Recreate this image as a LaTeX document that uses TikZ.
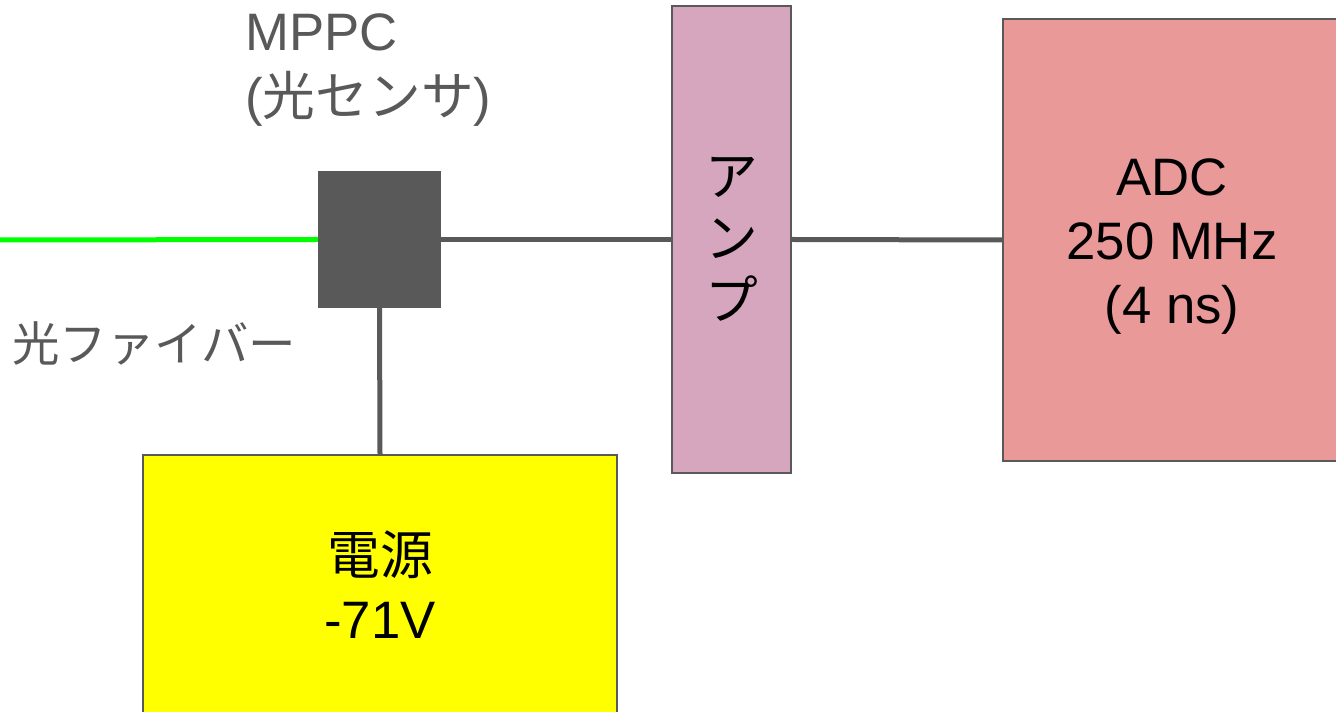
\documentclass[tikz,border=0pt]{standalone}
\usepackage{fontspec}
\setmainfont{Liberation Sans}
\newfontfamily\jp{Noto Sans CJK JP}
\usetikzlibrary{positioning}

\definecolor{cinza}{HTML}{595959}
\definecolor{verde}{HTML}{00FF00}
\definecolor{rosa}{HTML}{D5A6BD}
\definecolor{salmao}{HTML}{EA9999}
\definecolor{amarelo}{HTML}{FFFF00}

\begin{document}
\begin{tikzpicture}[x=0.02cm, y=-0.02cm,
    caixa/.style={draw=cinza, line width=0.04cm, inner sep=0, align=center,
        font=\fontsize{30}{36.4}\selectfont},
    fio/.style={cinza, line width=0.1cm},
    rotulo/.style={cinza, inner sep=0, align=left, anchor=west,
        font=\fontsize{30}{36.5}\selectfont}]

    \useasboundingbox (0,0) rectangle (1336,712);

    \node (mppc) [caixa, fill=cinza, minimum width=2.42cm, minimum height=2.7cm] at (379.5, 239.5) {}; % sensor
    \node (amp) [caixa, fill=rosa, minimum width=2.38cm, minimum height=9.34cm,
        font=\fontsize{30}{35.3}\selectfont\jp] at (731.5, 239.5) {ア\\ン\\プ};
    \node (adc) [caixa, fill=salmao, minimum width=6.74cm, minimum height=8.84cm] at (1171.5, 240) {};
    \node (adctexto) [caixa, draw=none] at (1172, 247) {ADC\\250 MHz\\(4 ns)};
    \node (fonte) [caixa, fill=amarelo, minimum width=9.48cm, minimum height=5.2cm] at (380, 585) {{\jp 電源}\\-71V};

    \node (nome) [rotulo] at (245, 70) {MPPC\\({\jp 光センサ})};
    \node (fibra) [rotulo, font=\fontsize{27}{32}\selectfont\jp] at (12, 343) {光ファイバー};

    \coordinate (inicio) at (0, 240);

    \draw [verde, line width=0.1cm] (inicio) -- (mppc.west); % fibra
    \draw [fio] (mppc.east) -- (amp.west);
    \draw [fio] (amp.east) -- (adc.west);
    \draw [fio] (mppc.south) -- (fonte.north);

\end{tikzpicture}
\end{document}
